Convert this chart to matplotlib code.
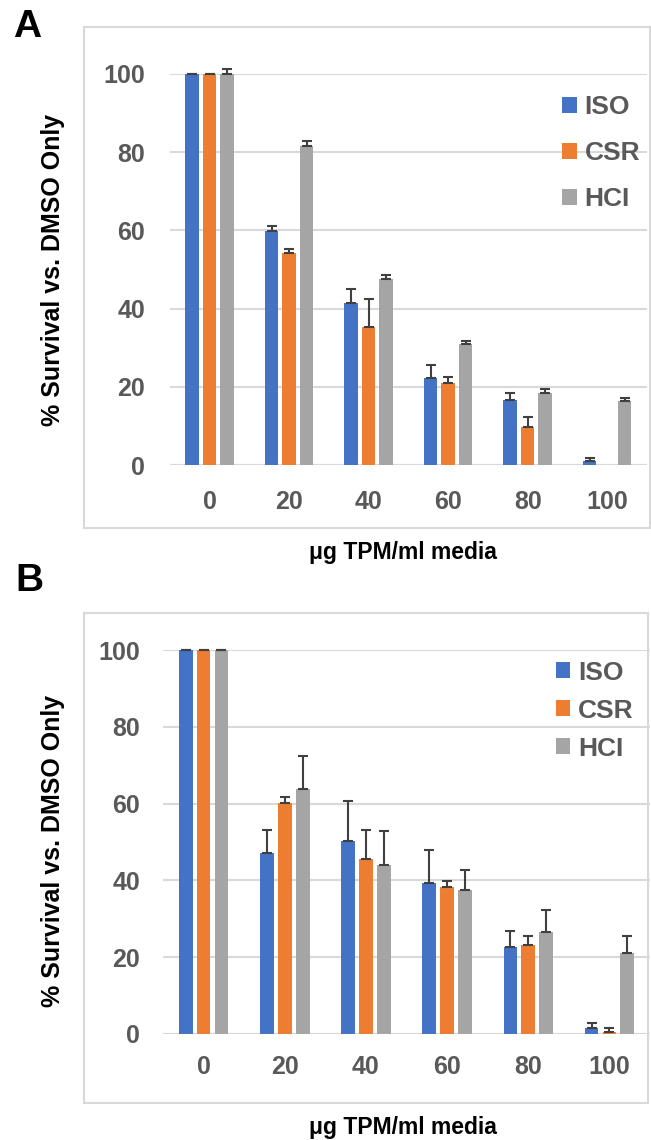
import matplotlib
matplotlib.use("Agg")
import matplotlib.pyplot as plt
from matplotlib.patches import Rectangle
import numpy as np

plt.rcParams['font.family'] = ['Liberation Sans', 'DejaVu Sans']
plt.rcParams['font.weight'] = 'bold'

# data
doses = ['0', '20', '40', '60', '80', '100']
groups = ['ISO', 'CSR', 'HCI']
colors = ['#4472C4', '#ED7D31', '#A5A5A5']

a_iso = [100, 59.8, 41.4, 22.3, 16.6, 1.1]
a_csr = [100, 54.3, 35.2, 20.9, 9.8, 0]
a_hci = [100, 81.6, 47.6, 30.9, 18.3, 16.3]
a_iso_err = [0, 1.2, 3.6, 3.3, 1.9, 0.8]
a_csr_err = [0, 0.9, 7.3, 1.5, 2.6, 0]
a_hci_err = [1.2, 1.3, 1.0, 0.9, 1.2, 0.9]

b_iso = [100, 47.1, 50.2, 39.2, 22.7, 1.6]
b_csr = [100, 60.1, 45.6, 38.4, 23.3, 0.6]
b_hci = [100, 63.9, 43.9, 37.6, 26.6, 21.1]
b_iso_err = [0, 5.9, 10.4, 8.6, 4.0, 1.2]
b_csr_err = [0, 1.7, 7.4, 1.4, 2.3, 0.9]
b_hci_err = [0, 8.4, 8.9, 5.0, 5.8, 4.5]

TXT = '#595959'
GRID = '#D9D9D9'

fig = plt.figure(figsize=(6.51, 11.4), dpi=100)


def panel(rect, vals, errs, xpad, ypad, leg_anchor, leg_space):
    ax = fig.add_axes(rect)
    x = np.arange(len(doses))
    for i, (v, e, c, g) in enumerate(zip(vals, errs, colors, groups)):
        pos = x + (i - 1) * 0.22
        v = np.array(v, float)
        e = np.array(e, float)
        ax.bar(pos, v, width=0.17, color=c, label=g, zorder=2)
        keep = v > 0  # no error bar on empty bars
        ax.errorbar(pos[keep], v[keep], yerr=[np.zeros(keep.sum()), e[keep]],
                    fmt='none', ecolor='#404040', elinewidth=1.5, capsize=3.6,
                    capthick=1.5, zorder=3, clip_on=False)
    ax.set_xlim(-0.5, 5.5)
    ax.set_ylim(0, 100)
    ax.set_yticks([0, 20, 40, 60, 80, 100])
    ax.set_xticks(x)
    ax.set_xticklabels(doses)
    ax.tick_params(length=0, labelsize=18, labelcolor=TXT)
    ax.tick_params(axis='x', pad=xpad)
    ax.tick_params(axis='y', pad=ypad)
    for s in ax.spines.values():
        s.set_visible(False)
    ax.yaxis.grid(True, color=GRID, linewidth=1.5, zorder=0)
    ax.set_axisbelow(True)
    ax.axhline(0, color=GRID, linewidth=1.5, zorder=1)
    ax.legend(loc='upper left', bbox_to_anchor=leg_anchor, frameon=False,
              fontsize=19, labelcolor=TXT, handlelength=0.55, handleheight=0.55,
              handletextpad=0.3, labelspacing=leg_space, borderaxespad=0)
    return ax


panel([0.2611, 0.5921, 0.7327, 0.3430],
      [a_iso, a_csr, a_hci], [a_iso_err, a_csr_err, a_hci_err],
      18, 18, (0.80, 0.972), 0.83)
panel([0.2504, 0.0930, 0.7481, 0.3368],
      [b_iso, b_csr, b_hci], [b_iso_err, b_csr_err, b_hci_err],
      15, 16.5, (0.785, 1.0), 0.53)

# chart frames
for r in [(0.129, 0.5368, 0.8694, 0.4395), (0.129, 0.0325, 0.866, 0.4298)]:
    fig.add_artist(Rectangle(r[:2], r[2], r[3], transform=fig.transFigure,
                             fill=False, edgecolor=GRID, linewidth=1.5))

ylab = '% Survival vs. DMSO Only'
xlab = '\u03bcg TPM/ml media'
fig.text(0.0814, 0.763, ylab, rotation=90, ha='center', va='center', fontsize=18)
fig.text(0.0814, 0.254, ylab, rotation=90, ha='center', va='center', fontsize=18)
fig.text(0.619, 0.515, xlab, ha='center', va='center', fontsize=16.5)
fig.text(0.619, 0.0114, xlab, ha='center', va='center', fontsize=16.5)
fig.text(0.02, 1 - 27 / 1140, 'A', ha='left', va='center', fontsize=28)
fig.text(0.023, 1 - 581 / 1140, 'B', ha='left', va='center', fontsize=28)

fig.savefig('out.png', dpi=100)
